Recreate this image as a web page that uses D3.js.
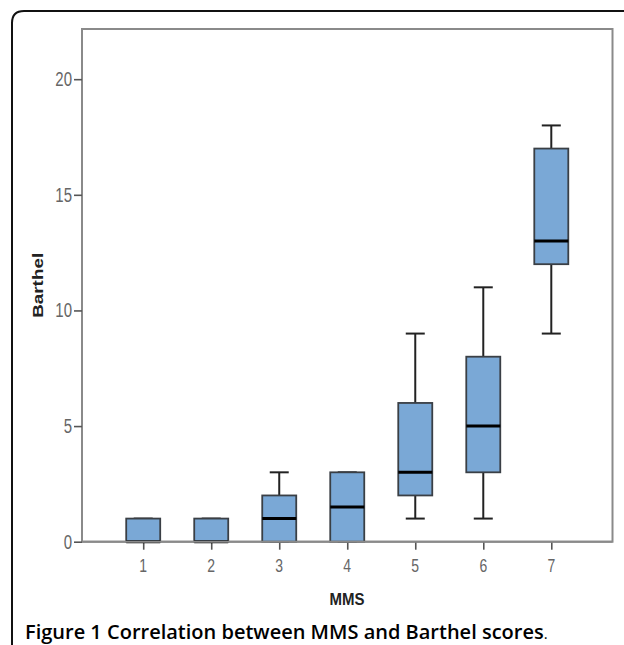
<!DOCTYPE html>
<html><head><meta charset="utf-8">
<script src="https://cdn.jsdelivr.net/npm/d3@7"></script>
<style>
body{margin:0;background:#fff;}
svg{display:block;}
</style></head>
<body>
<svg id="c" width="624" height="645"></svg>
<script>
const categories = ["1","2","3","4","5","6","7"];
const mins    = [0, 0, 0, 0,   1, 1, 9];
const q1s     = [0, 0, 0, 0,   2, 3, 12];
const medians = [0, 0, 1, 1.5, 3, 5, 13];
const q3s     = [1, 1, 2, 3,   6, 8, 17];
const maxs    = [1, 1, 3, 3,   9, 11, 18];
const yTicks  = [0, 5, 10, 15, 20];
const xTitle = "MMS";
const yTitle = "Barthel";
const caption = "Figure 1 Correlation between MMS and Barthel scores";

const data = categories.map((c,i)=>({c, min:mins[i], q1:q1s[i], med:medians[i], q3:q3s[i], max:maxs[i]}));

const svg = d3.select("#c");
const L = 82, R = 612.5, T = 29, B = 541.7;

// outer rounded frame (only top & left visible)
svg.append("path")
  .attr("d", `M12,660 L12,23 Q12,11 24,11 L630,11`)
  .attr("fill","none").attr("stroke","#111").attr("stroke-width",2);

const x = d3.scalePoint().domain(categories).range([L, R]).padding(0.9);
const y = d3.scaleLinear().domain([0, 22.17]).range([B, T]);
const bw = 34;

// plot frame
svg.append("rect").attr("x",L).attr("y",T).attr("width",R-L).attr("height",B-T)
  .attr("fill","none").attr("stroke","#8a8a8a").attr("stroke-width",2);

const font = "'Liberation Sans',Arial,sans-serif";
const SY = 1.3;

// axes (ticks only; labels drawn stretched)
const yAxis = svg.append("g").attr("transform",`translate(${L},0)`)
  .call(d3.axisLeft(y).tickValues(yTicks).tickSize(8).tickFormat(""));
const xAxis = svg.append("g").attr("transform",`translate(0,${B})`)
  .call(d3.axisBottom(x).tickSize(8).tickFormat(""));
[yAxis,xAxis].forEach(a=>{
  a.select(".domain").remove();
  a.selectAll(".tick line").attr("stroke","#555").attr("stroke-width",1.6);
});
svg.append("g").selectAll("text").data(yTicks).join("text")
  .attr("transform",d=>`translate(${L-10},${y(d)}) scale(1,${SY})`)
  .attr("dy","0.36em").attr("text-anchor","end")
  .style("font-family",font).style("font-size","15px").attr("fill","#666").text(d=>d);
svg.append("g").selectAll("text").data(categories).join("text")
  .attr("transform",d=>`translate(${x(d)},${B+17}) scale(1,${SY})`)
  .attr("dy","0.71em").attr("text-anchor","middle")
  .style("font-family",font).style("font-size","14px").attr("fill","#666").text(d=>d);

// boxes
const g = svg.append("g");
data.forEach(d=>{
  const cx = x(d.c);
  g.append("line").attr("x1",cx).attr("x2",cx).attr("y1",y(d.q3)).attr("y2",y(d.max)).attr("stroke","#222").attr("stroke-width",2);
  g.append("line").attr("x1",cx).attr("x2",cx).attr("y1",y(d.q1)).attr("y2",y(d.min)).attr("stroke","#222").attr("stroke-width",2);
  g.append("line").attr("x1",cx-bw/4-1).attr("x2",cx+bw/4+1).attr("y1",y(d.max)).attr("y2",y(d.max)).attr("stroke","#222").attr("stroke-width",2);
  g.append("line").attr("x1",cx-bw/4-1).attr("x2",cx+bw/4+1).attr("y1",y(d.min)).attr("y2",y(d.min)).attr("stroke","#222").attr("stroke-width",2);
  g.append("rect").attr("x",cx-bw/2).attr("y",y(d.q3)).attr("width",bw).attr("height",y(d.q1)-y(d.q3))
    .attr("fill","#7aa8d6").attr("stroke","#3a3f45").attr("stroke-width",1.8);
  g.append("line").attr("x1",cx-bw/2).attr("x2",cx+bw/2).attr("y1",y(d.med)).attr("y2",y(d.med)).attr("stroke","#000").attr("stroke-width",3);
});

svg.append("line").attr("x1",L).attr("x2",R).attr("y1",B).attr("y2",B).attr("stroke","#8a8a8a").attr("stroke-width",2);

// titles
svg.append("text").attr("transform",`translate(347,605) scale(1,1.12)`).attr("text-anchor","middle")
  .style("font-family",font).style("font-weight","bold").style("font-size","15px").attr("fill","#222").text(xTitle);
svg.append("text").attr("transform",`translate(43,${(T+B)/2}) rotate(-90) scale(1.26,1)`).attr("text-anchor","middle")
  .style("font-family",font).style("font-weight","bold").style("font-size","15px").attr("fill","#222").text(yTitle);

const cap = svg.append("text").attr("x",25).attr("y",639)
  .style("font-family","'Open Sans',sans-serif").style("font-size","20px").attr("fill","#000");
cap.append("tspan").style("font-weight","600").text(caption);
cap.append("tspan").style("font-size","15px").text(".");
</script>
</body></html>
